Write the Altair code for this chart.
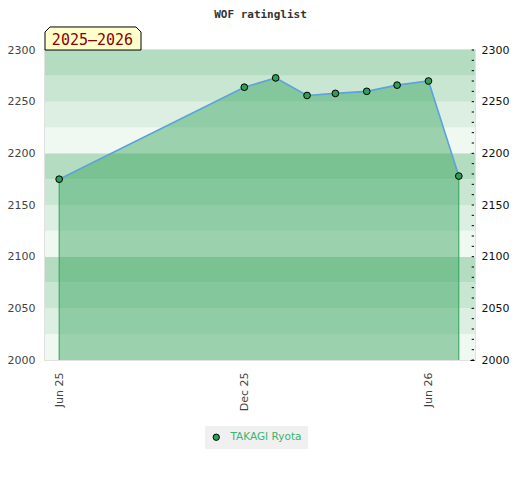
import altair as alt
import pandas as pd

# ---- data ----
player = "TAKAGI Ryota"
dates = ["2025-06-01", "2025-12-01", "2026-01-01", "2026-02-01", "2026-03-01",
         "2026-04-01", "2026-05-01", "2026-06-01", "2026-07-01"]
ratings = [2175, 2264, 2273, 2256, 2258, 2260, 2266, 2270, 2178]

title_text = "WOF ratinglist"
period_text = "2025–2026"

y_labels = [2000, 2050, 2100, 2150, 2200, 2250, 2300]
y_minor = [2000 + 10 * i for i in range(31)]

# background bands (25-point bands, shade level repeats every 100)
band_lo = [2000, 2025, 2050, 2075, 2100, 2125, 2150, 2175, 2200, 2225, 2250, 2275]
band_hi = [2025, 2050, 2075, 2100, 2125, 2150, 2175, 2200, 2225, 2250, 2275, 2300]
band_lvl = [0, 1, 2, 3, 0, 1, 2, 3, 0, 1, 2, 3]

W, H = 430, 310

df = pd.DataFrame({"date": dates, "rating": ratings, "player": [player] * len(dates)})
edges = df.iloc[[0, len(df) - 1]]
bands = pd.DataFrame({"lo": band_lo, "hi": band_hi, "lvl": band_lvl})
minor = pd.DataFrame({"v": y_minor})

yscale = alt.Scale(domain=[2000, 2300], nice=False, zero=False)
xscale = alt.Scale(type="utc",
                   domain=[alt.DateTime(year=2025, month=5, date=18, utc=True),
                           alt.DateTime(year=2026, month=7, date=17, utc=True)])

xaxis = alt.Axis(
    values=[alt.DateTime(year=2025, month=6, date=1, utc=True),
            alt.DateTime(year=2025, month=12, date=1, utc=True),
            alt.DateTime(year=2026, month=6, date=1, utc=True)],
    format="%b %y", labelAngle=-90, ticks=False, domain=False, grid=False,
    labelColor="#444444", labelFontSize=11, labelPadding=12, title=None,
)
yaxis_left = alt.Axis(values=y_labels, format="d", ticks=False, domain=False,
                      grid=False, labelColor="#444444", labelFontSize=11,
                      labelPadding=10, title=None)

band_layer = alt.Chart(bands).mark_rect().encode(
    x=alt.value(0), x2=alt.value(W),
    y=alt.Y("lo:Q", scale=yscale, axis=yaxis_left),
    y2="hi:Q",
    color=alt.Color("lvl:O", scale=alt.Scale(domain=[0, 1, 2, 3],
                    range=["#f0f8f2", "#ddefe3", "#c8e6d2", "#b3dcc1"]), legend=None),
)

area_layer = alt.Chart(df).mark_area(color="#37a35c", fillOpacity=0.46).encode(
    x=alt.X("date:T", scale=xscale, axis=xaxis),
    y=alt.Y("rating:Q", scale=yscale),
    y2=alt.datum(2000),
)

edge_layer = alt.Chart(edges).mark_rule(color="#2ea356", strokeWidth=1).encode(
    x="date:T", y="rating:Q", y2=alt.datum(2000),
)

line_layer = alt.Chart(df).mark_line(color="#5ba3d9", strokeWidth=1.6).encode(
    x="date:T", y="rating:Q",
)

point_layer = alt.Chart(df).mark_circle(size=45, stroke="black", strokeWidth=1,
                                        opacity=1).encode(
    x="date:T", y="rating:Q",
    fill=alt.Fill("player:N", scale=alt.Scale(domain=[player], range=["#2e9e58"]),
                  legend=alt.Legend(orient="none", legendX=160, legendY=376,
                                    title=None, fillColor="#f0f0f0", padding=6,
                                    symbolType="circle", symbolSize=40,
                                    symbolStrokeColor="black", symbolStrokeWidth=1,
                                    symbolOffset=0, labelColor="#3cb371",
                                    labelFontSize=10.5, labelOffset=9)),
)

title_layer = alt.Chart(pd.DataFrame({"t": [title_text]})).mark_text(
    font="DejaVu Sans Mono", fontWeight="bold", fontSize=11, color="#333333",
    baseline="alphabetic", align="center",
).encode(x=alt.value(W / 2 + 0.5), y=alt.value(-32), text="t:N")

box_layer = alt.Chart(pd.DataFrame({"t": [period_text]})).mark_point(
    shape="M-1,0.24L-1,-0.136L-0.896,-0.24L0.896,-0.24L1,-0.136L1,0.24Z",
    size=9216, filled=True, fill="#ffffcc", stroke="black", strokeWidth=1, opacity=1,
).encode(x=alt.value(48), y=alt.value(-11.5))

box_text = alt.Chart(pd.DataFrame({"t": [period_text]})).mark_text(
    font="DejaVu Sans Mono", fontSize=15, color="#8b0000",
    baseline="alphabetic", align="center",
).encode(x=alt.value(47.5), y=alt.value(-5), text="t:N")

left = alt.layer(band_layer, area_layer, edge_layer, line_layer, point_layer,
                 title_layer, box_layer, box_text)

right = alt.Chart(minor).mark_rule(color="black", strokeWidth=1).encode(
    y=alt.Y("v:Q", scale=yscale,
            axis=alt.Axis(orient="right", values=y_labels, format="d", offset=-5,
                          tickSize=4, tickColor="black", domain=False, grid=False,
                          labelColor="#111111", labelFontSize=11, labelPadding=7,
                          title=None)),
    x=alt.value(W - 3.3), x2=alt.value(W - 1),
)

chart = alt.layer(left, right).resolve_scale(y="independent").properties(
    width=W, height=H,
    autosize=alt.AutoSizeParams(type="none"),
    padding={"left": 37, "top": 42, "right": 36, "bottom": 100},
).configure(font="DejaVu Sans").configure_view(stroke="#d8d8d8", strokeWidth=1.5)

chart.save("out.html", embed_options={"renderer": "svg", "actions": False})
